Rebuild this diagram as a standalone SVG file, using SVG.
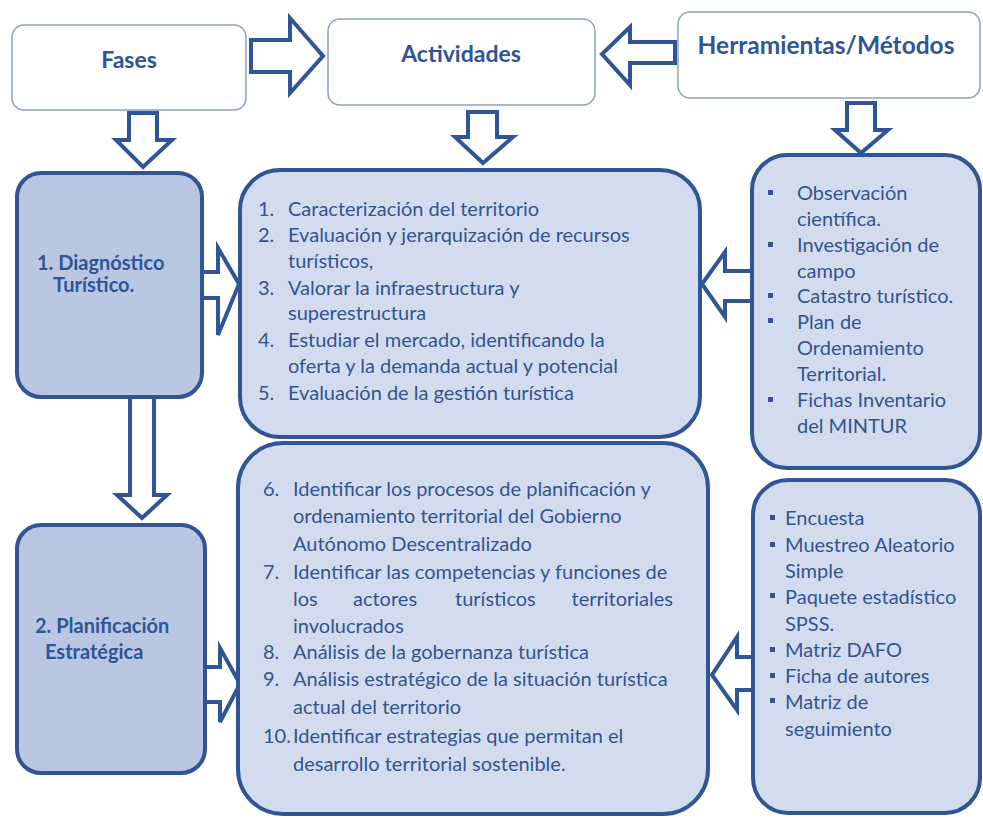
<svg xmlns="http://www.w3.org/2000/svg" width="983" height="818" viewBox="0 0 983 818">
<style>
.top{fill:#ffffff;stroke:#8ea0bd;stroke-width:1.5}
.phase{fill:#b9c7e2;stroke:#2f5597;stroke-width:4}
.act{fill:#d3dcee;stroke:#2f5597;stroke-width:4}
.arr{fill:#ffffff;stroke:#2f5597;stroke-width:4;stroke-linejoin:miter}
.h{font-family:Lato,"Liberation Sans",sans-serif;font-weight:bold;fill:#2f5597;font-size:20px}
.hh{font-family:Lato,"Liberation Sans",sans-serif;font-weight:bold;fill:#2f5597;font-size:23px}
.t{font-family:Lato,"Liberation Sans",sans-serif;fill:#34548f;font-size:20px}
.t2{font-family:Lato,"Liberation Sans",sans-serif;fill:#34548f;font-size:20px}
.b{fill:#34548f}
</style>
<rect width="983" height="818" fill="#ffffff"/>
<g id="connectors">
<path class="arr" d="M251,40 H290 V18 L323,56 L290,93 V72 H251 Z"/>
<path class="arr" d="M675,42 H630 V27 L602,54 L630,85 V63 H675 Z"/>
<path class="arr" d="M129,113 H157 V140 H172 L143,167 L116,140 H129 Z"/>
<path class="arr" d="M468,112 H497 V137 H513 L483,163 L455,137 H468 Z"/>
<path class="arr" d="M847,103 H875 V130 H888 L861,153 L835,130 H847 Z"/>
<path class="arr" d="M202,272 H218 V248 L239,284 L218,335 V298 H202 Z"/>
<path class="arr" d="M752,271 H725 V252 L702,284 L725,317 V301 H752 Z"/>
<path class="arr" d="M130,397 H154 V495 H167 L142,518 L117,495 H130 Z"/>
<path class="arr" d="M205,667 H220 V648 L240,684 L220,722 V702 H205 Z"/>
<path class="arr" d="M753,657 H737 V637 L712,675 L737,710 V690 H753 Z"/>
</g>
<g id="fases">
<rect class="top" x="12" y="25" width="234" height="85" rx="12"/>
<text class="hh" x="129" y="68" text-anchor="middle">Fases</text>
</g>
<g id="actividades">
<rect class="top" x="328" y="19" width="267" height="86" rx="12"/>
<text class="hh" x="461" y="62" text-anchor="middle">Actividades</text>
</g>
<g id="herramientas">
<rect class="top" x="678" y="12" width="302" height="86" rx="12"/>
<text class="hh" x="826" y="54" text-anchor="middle" style="font-size:24.5px">Herramientas/Métodos</text>
</g>
<g id="diagnostico">
<rect class="phase" x="17" y="173" width="185" height="224" rx="24"/>
<text class="h" x="37" y="270">1. Diagnóstico</text>
<text class="h" x="53" y="292">Turístico.</text>
</g>
<g id="planificacion">
<rect class="phase" x="17" y="525" width="188" height="248" rx="24"/>
<text class="h" x="35" y="633">2. Planificación</text>
<text class="h" x="45" y="659">Estratégica</text>
</g>
<g id="actividades1">
<rect class="act" x="240" y="170" width="460" height="267" rx="40"/>
<g class="t">
<text x="258" y="216">1.</text><text x="288" y="216">Caracterización del territorio</text>
<text x="258" y="242">2.</text><text x="288" y="242">Evaluación y jerarquización de recursos</text>
<text x="288" y="268">turísticos,</text>
<text x="258" y="295">3.</text><text x="288" y="295">Valorar la infraestructura y</text>
<text x="288" y="320">superestructura</text>
<text x="258" y="347">4.</text><text x="288" y="347">Estudiar el mercado, identificando la</text>
<text x="288" y="373">oferta y la demanda actual y potencial</text>
<text x="258" y="400">5.</text><text x="288" y="400">Evaluación de la gestión turística</text>
</g>
</g>
<g id="actividades2">
<rect class="act" x="238" y="443" width="470" height="371" rx="45"/>
<g class="t2">
<text x="263" y="496">6.</text><text x="293" y="496">Identificar los procesos de planificación y</text>
<text x="293" y="523">ordenamiento territorial del Gobierno</text>
<text x="293" y="551">Autónomo Descentralizado</text>
<text x="263" y="579">7.</text><text x="293" y="579">Identificar las competencias y funciones de</text>
<text x="293" y="606">los</text><text x="353" y="606">actores</text><text x="455" y="606">turísticos</text><text x="673" y="606" text-anchor="end">territoriales</text>
<text x="293" y="633">involucrados</text>
<text x="263" y="659">8.</text><text x="293" y="659">Análisis de la gobernanza turística</text>
<text x="263" y="686">9.</text><text x="293" y="686">Análisis estratégico de la situación turística</text>
<text x="293" y="714">actual del territorio</text>
<text x="263" y="743">10.</text><text x="293" y="743">Identificar estrategias que permitan el</text>
<text x="293" y="771">desarrollo territorial sostenible.</text>
</g>
</g>
<g id="herramientas1">
<rect class="act" x="752" y="155" width="228" height="313" rx="35"/>
<g class="b">
<rect x="768" y="190" width="5" height="5"/>
<rect x="768" y="242" width="5" height="5"/>
<rect x="768" y="293" width="5" height="5"/>
<rect x="768" y="318" width="5" height="5"/>
<rect x="768" y="397" width="5" height="5"/>
</g>
<g class="t2">
<text x="797" y="200">Observación</text>
<text x="797" y="226">científica.</text>
<text x="797" y="252">Investigación de</text>
<text x="797" y="278">campo</text>
<text x="797" y="303">Catastro turístico.</text>
<text x="797" y="329">Plan de</text>
<text x="797" y="355">Ordenamiento</text>
<text x="797" y="381">Territorial.</text>
<text x="797" y="407">Fichas Inventario</text>
<text x="797" y="433">del MINTUR</text>
</g>
</g>
<g id="herramientas2">
<rect class="act" x="753" y="480" width="227" height="333" rx="35"/>
<g class="b">
<rect x="770" y="515" width="5" height="5"/>
<rect x="770" y="542" width="5" height="5"/>
<rect x="770" y="593" width="5" height="5"/>
<rect x="770" y="647" width="5" height="5"/>
<rect x="770" y="673" width="5" height="5"/>
<rect x="770" y="698" width="5" height="5"/>
</g>
<g class="t2">
<text x="785" y="525">Encuesta</text>
<text x="785" y="552">Muestreo Aleatorio</text>
<text x="785" y="578">Simple</text>
<text x="785" y="604">Paquete estadístico</text>
<text x="785" y="631">SPSS.</text>
<text x="785" y="657">Matriz DAFO</text>
<text x="785" y="683">Ficha de autores</text>
<text x="785" y="709">Matriz de</text>
<text x="785" y="736">seguimiento</text>
</g>
</g>
</svg>
